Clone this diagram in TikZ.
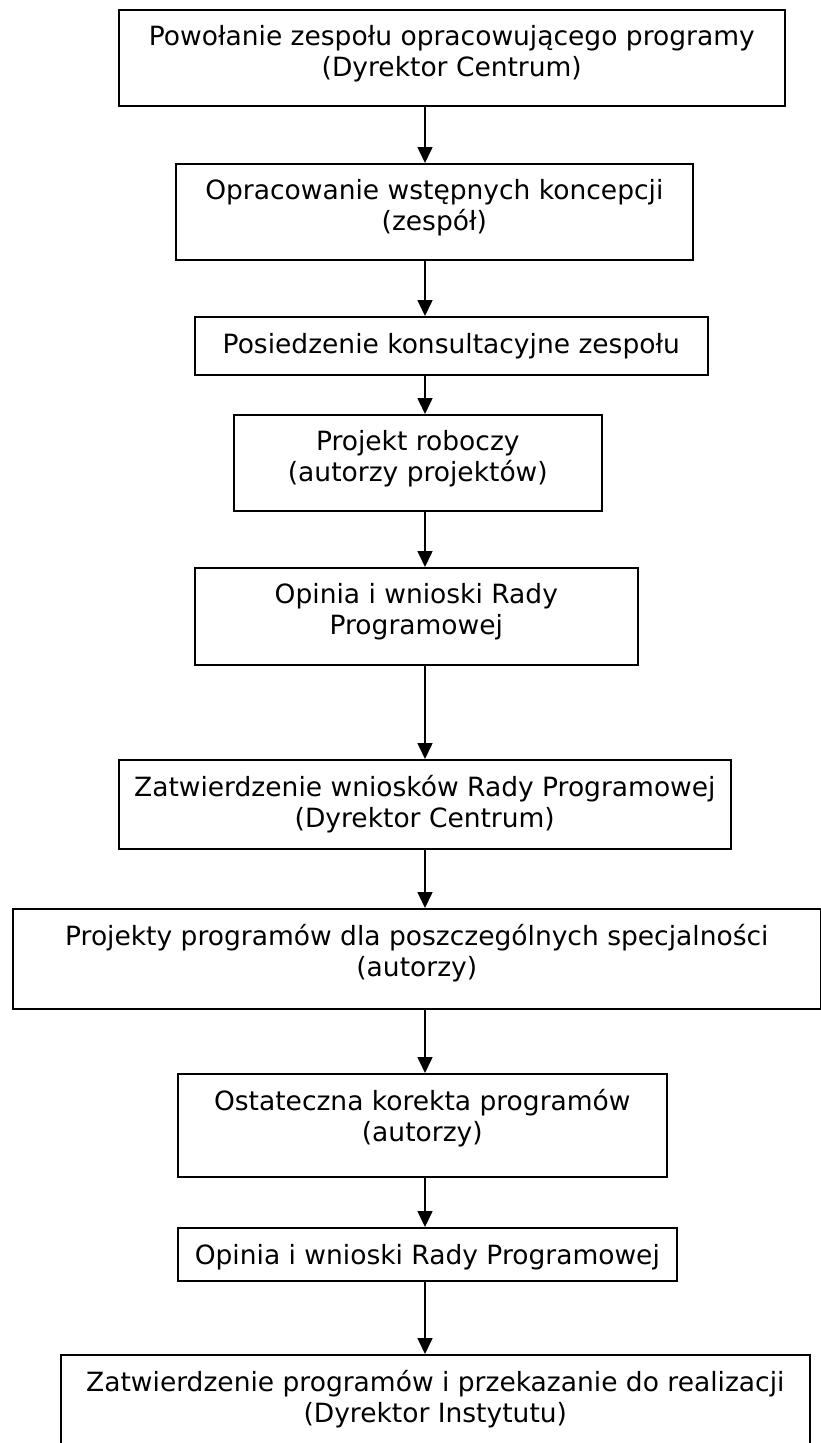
\documentclass[tikz,border=0pt]{standalone}
\usepackage{fontspec}
\setmainfont{DejaVu Sans}
\usetikzlibrary{arrows.meta}

\tikzset{
  ramka/.style={draw, line width=1.6pt, inner sep=0pt, anchor=north west},
  tekst/.style={anchor=north, yshift=-16pt, align=center, inner sep=0pt,
    font=\fontsize{26.5}{31}\selectfont, execute at begin node=\strut},
  strz/.style={-{Triangle[width=15pt,length=16pt]}, line width=1.6pt},
}

\begin{document}
\begin{tikzpicture}[x=1pt,y=-1pt]
	\useasboundingbox (0,0) rectangle (821,1443);
	\clip (0,0) rectangle (821,1443);
	\coordinate (os) at (425,0);
	
	% ramki
	\node[ramka, minimum width=666pt, minimum height=96pt] (powolanie) at (118,9) {};
	\node[ramka, minimum width=517pt, minimum height=96pt] (koncepcje) at (175,163) {};
	\node[ramka, minimum width=513pt, minimum height=58pt] (posiedzenie) at (194,316) {};
	\node[ramka, minimum width=368pt, minimum height=96pt] (roboczy) at (233,414) {};
	\node[ramka, minimum width=443pt, minimum height=97pt] (opinia) at (194,567) {};
	\node[ramka, minimum width=612pt, minimum height=89pt] (zatwWnioski) at (118,759) {};
	\node[ramka, minimum width=808pt, minimum height=100pt] (projekty) at (12,908) {};
	\node[ramka, minimum width=489pt, minimum height=103pt] (korekta) at (177,1073) {};
	\node[ramka, minimum width=499pt, minimum height=53pt] (opinia2) at (177,1227) {};
	\node[ramka, minimum width=749pt, minimum height=120pt] (zatwProgramy) at (60,1354) {};
	
	% napisy
	\node[tekst] (powolanieT) at (powolanie.north)
		{Powołanie zespołu opracowującego programy\\(Dyrektor Centrum)};
	\node[tekst] (koncepcjeT) at (koncepcje.north)
		{Opracowanie wstępnych koncepcji\\(zespół)};
	\node[tekst] (posiedzenieT) at (posiedzenie.north)
		{Posiedzenie konsultacyjne zespołu};
	\node[tekst] (roboczyT) at (roboczy.north)
		{Projekt roboczy\\(autorzy projektów)};
	\node[tekst] (opiniaT) at (opinia.north)
		{Opinia i wnioski Rady\\Programowej};
	\node[tekst] (zatwWnioskiT) at (zatwWnioski.north)
		{Zatwierdzenie wniosków Rady Programowej\\(Dyrektor Centrum)};
	\node[tekst] (projektyT) at (projekty.north)
		{Projekty programów dla poszczególnych specjalności\\(autorzy)};
	\node[tekst] (korektaT) at (korekta.north)
		{Ostateczna korekta programów\\(autorzy)};
	\node[tekst] (opinia2T) at (opinia2.north)
		{Opinia i wnioski Rady Programowej};
	\node[tekst] (zatwProgramyT) at (zatwProgramy.north)
		{Zatwierdzenie programów i przekazanie do realizacji\\(Dyrektor Instytutu)};
	
	% strzalki
	\foreach \a/\b in {powolanie/koncepcje, koncepcje/posiedzenie, posiedzenie/roboczy,
		roboczy/opinia, opinia/zatwWnioski, zatwWnioski/projekty, projekty/korekta,
		korekta/opinia2, opinia2/zatwProgramy}
		\draw[strz] (\a.south -| os) -- (\b.north -| os);
\end{tikzpicture}
\end{document}
